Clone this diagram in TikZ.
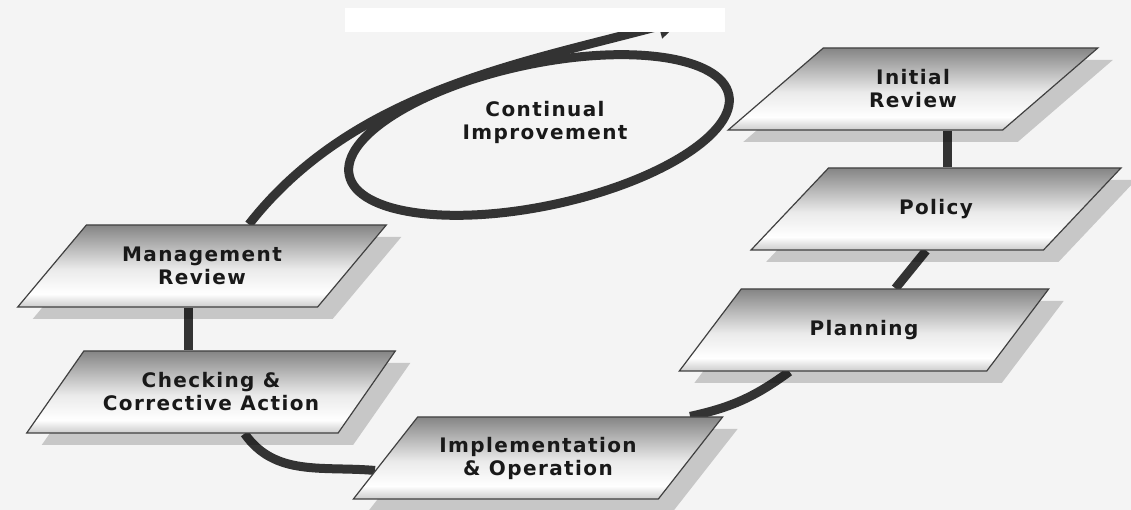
\documentclass[tikz,border=0pt]{standalone}
\usepackage{fontspec}
\usetikzlibrary{shapes.geometric, shadows, arrows.meta, calc}
\newfontfamily\boxfont{DejaVu Sans}[LetterSpace=7]
\definecolor{linkgray}{HTML}{333333}
\definecolor{paper}{HTML}{F4F4F4}
\pgfdeclarelayer{bg}
\pgfdeclarelayer{lines}
\pgfsetlayers{bg,lines,main}
\pgfdeclareverticalshading{boxshade}{100bp}{color(0bp)=(black!20); color(25bp)=(black!20); color(33bp)=(white); color(48bp)=(black!8); color(75bp)=(black!48); color(100bp)=(black!48)}
\tikzset{
    stepbox/.style={
        trapezium,
        trapezium left angle=42, % 平行四边形
        trapezium right angle=138,
        trapezium stretches=true,
        minimum width=370pt,
        minimum height=82pt,
        draw=black!75, % 深灰边框
        line width=1.2pt,
        shade, shading=boxshade,
        drop shadow={shadow xshift=15pt, shadow yshift=-12pt, fill=black, opacity=0.18},
        align=center,
        text=black!90,
        font=\boxfont\bfseries\fontsize{20}{23}\selectfont
    },
    loopring/.style={
        ellipse,
        draw=linkgray,
        line width=9pt,
        minimum width=388pt,
        minimum height=142pt,
        inner sep=0,
        rotate=12
    },
    looptext/.style={
        align=center,
        text=black!90,
        font=\boxfont\bfseries\fontsize{20}{23}\selectfont
    },
    linkline/.style={draw=linkgray, line width=9pt}
}

\begin{document}
\begin{tikzpicture}[x=1pt, y=1pt]
            \begin{pgfonlayer}{bg}
                \fill[paper] (0,0) rectangle (1131,510);
            \end{pgfonlayer}
            \useasboundingbox (0,0) rectangle (1131,510);
            % 六个步骤
            \node[stepbox] (ir) at (913,421) {Initial\\Review};
            \node[stepbox] (pol) at (936,301) {Policy};
            \node[stepbox] (plan) at (864,180) {Planning};
            \node[stepbox] (impl) at (538,52) {Implementation\\\& Operation};
            \node[stepbox] (chk) at (211,118) {Checking \&\\Corrective Action};
            \node[stepbox] (mgmt) at (202,244) {Management\\Review};
            % 持续改进
            \node[loopring] (loop) at (539,375) {};
            \node[looptext] (ci) at (545,388) {Continual\\Improvement};
            \coordinate (cycletop) at (682,490);
            \coordinate (irfoot) at ($(ir.bottom left corner)!0.8!(ir.bottom right corner)$);
            \coordinate (mgmtfoot) at ($(mgmt.bottom left corner)!0.57!(mgmt.bottom right corner)$);
            \begin{pgfonlayer}{lines}
                \draw[linkline] (irfoot) -- (irfoot |- pol.north);
                \draw[linkline] ($(pol.bottom left corner)!0.6!(pol.bottom right corner)$)
                    -- ($(plan.top left corner)!0.5!(plan.top right corner)$);
                \draw[linkline] ($(plan.bottom left corner)!0.36!(plan.bottom right corner)$)
                    to[bend left=12] ($(impl.top left corner)!0.89!(impl.top right corner)$);
                \draw[linkline] ($(chk.bottom left corner)!0.7!(chk.bottom right corner)$)
                    to[out=-55, in=175] ($(impl.bottom left corner)!0.35!(impl.top left corner)$);
                \draw[linkline] (mgmtfoot) -- (mgmtfoot |- chk.north);
                \draw[linkline, -{Triangle[length=24pt, width=24pt]}]
                    ($(mgmt.top left corner)!0.54!(mgmt.top right corner)$)
                    to[out=52, in=195, looseness=0.9] (cycletop);
            \end{pgfonlayer}
            % 顶部白条
            \fill[white] (345,478) rectangle (725,502);
\end{tikzpicture}
\end{document}
